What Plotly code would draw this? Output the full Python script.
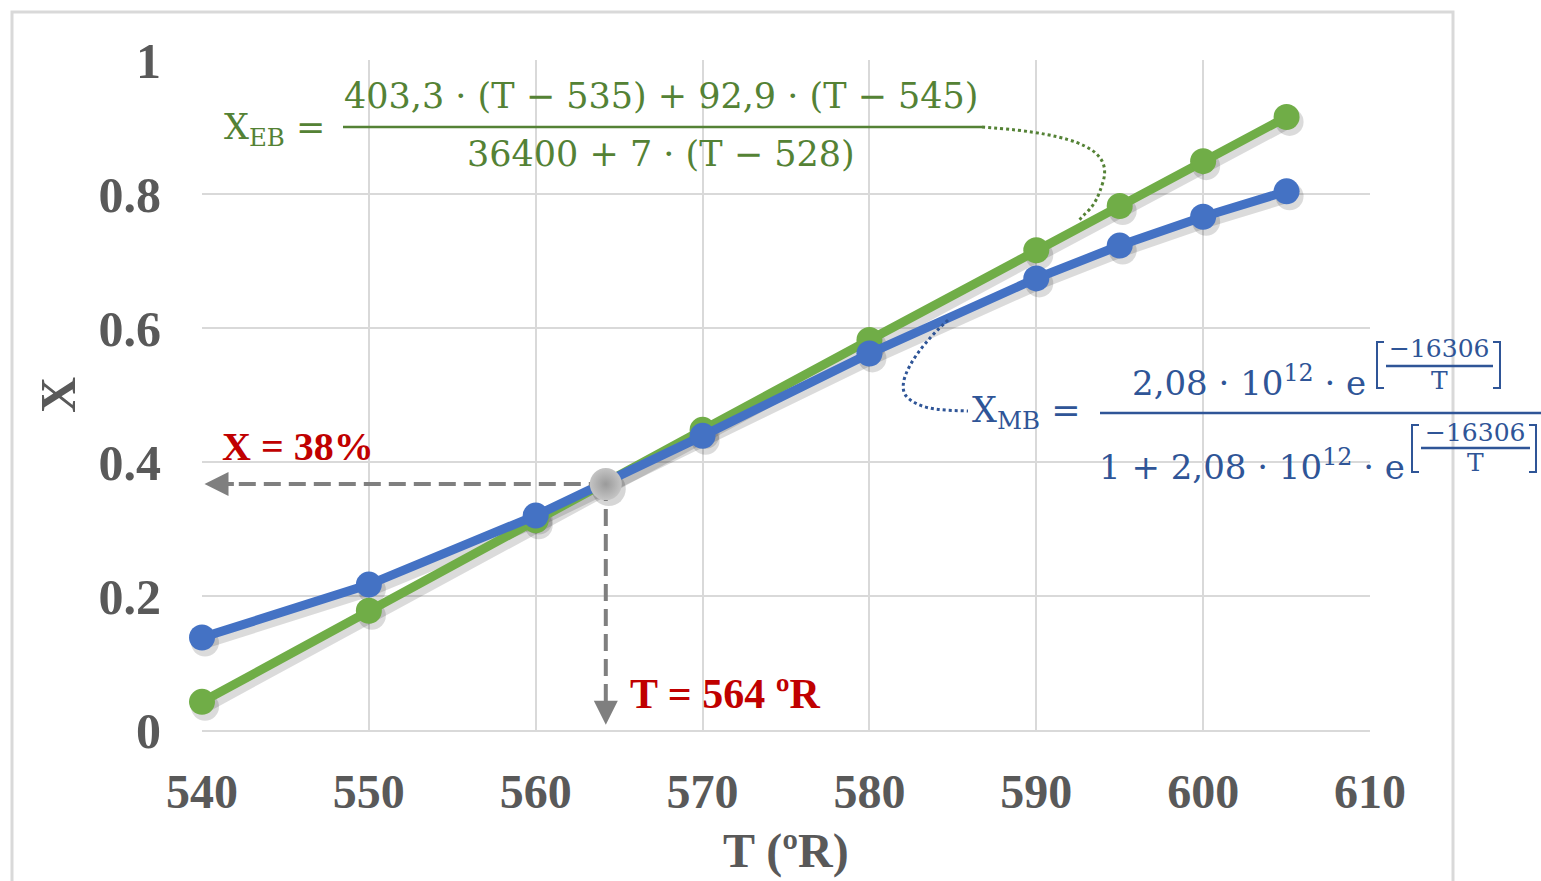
import plotly.graph_objects as go

# ---- data ----
T_vals = [540, 550, 560, 570, 580, 590, 595, 600, 605]
X_EB = [0.042, 0.178, 0.313, 0.448, 0.582, 0.716, 0.782, 0.849, 0.915]
X_MB = [0.138, 0.217, 0.320, 0.439, 0.562, 0.674, 0.723, 0.766, 0.804]
T_op = [564.2]
X_op = [0.367]
x_ticks = [540, 550, 560, 570, 580, 590, 600, 610]
y_ticks = [0, 0.2, 0.4, 0.6, 0.8, 1]
y_ticktext = ["0", "0.2", "0.4", "0.6", "0.8", "1"]

GREEN = "#70ad47"
BLUE = "#4472c4"
GTXT = "#548235"
BTXT = "#2f5597"
GRAY = "#595959"
RED = "#c00000"

W, H = 1541, 881
L, R, TOP, BOT = 202, 1370, 60, 730


def px(x):
    return (x - L) / (R - L)


def py(y):
    return (BOT - y) / (BOT - TOP)


fig = go.Figure()

# shadows (drawn on shifted axes)
sh_dx = 3 / ((R - L) / 70)
sh_dy = 5 / (BOT - TOP)
for ys in (X_EB, X_MB):
    fig.add_trace(go.Scatter(x=T_vals, y=ys, mode="lines+markers", xaxis="x2", yaxis="y2",
                             line=dict(color="rgba(0,0,0,0.14)", width=12),
                             marker=dict(size=28, color="rgba(0,0,0,0.14)"),
                             hoverinfo="skip", showlegend=False, cliponaxis=False))
fig.add_trace(go.Scatter(x=T_op, y=X_op, mode="markers", xaxis="x2", yaxis="y2",
                         marker=dict(size=34, color="rgba(0,0,0,0.16)"),
                         hoverinfo="skip", showlegend=False, cliponaxis=False))

fig.add_trace(go.Scatter(x=T_vals, y=X_EB, mode="lines+markers", name="X EB", xaxis="x3", yaxis="y3",
                         line=dict(color=GREEN, width=9), marker=dict(size=26, color=GREEN),
                         showlegend=False, cliponaxis=False))
fig.add_trace(go.Scatter(x=T_vals, y=X_MB, mode="lines+markers", name="X MB", xaxis="x3", yaxis="y3",
                         line=dict(color=BLUE, width=9), marker=dict(size=26, color=BLUE),
                         showlegend=False, cliponaxis=False))

# dashed guide lines
fig.add_trace(go.Scatter(x=[T_op[0], 541.4], y=[X_op[0], X_op[0]], mode="lines", xaxis="x3", yaxis="y3",
                         line=dict(color="#7f7f7f", width=4, dash="17px,8px"), showlegend=False,
                         hoverinfo="skip", cliponaxis=False))
fig.add_trace(go.Scatter(x=[T_op[0], T_op[0]], y=[X_op[0], 0.035], mode="lines", xaxis="x3", yaxis="y3",
                         line=dict(color="#7f7f7f", width=4, dash="17px,8px"), showlegend=False,
                         hoverinfo="skip", cliponaxis=False))
fig.add_trace(go.Scatter(x=T_op, y=X_op, mode="markers", xaxis="x3", yaxis="y3",
                         marker=dict(size=32, color="#c4c4c4",
                                     gradient=dict(type="radial", color="#9a9a9a")),
                         showlegend=False, cliponaxis=False))

axis_common = dict(showgrid=False, zeroline=False, showline=False, showticklabels=False)
fig.update_layout(
    width=W, height=H,
    margin=dict(l=L, r=W - R, t=TOP, b=H - BOT),
    paper_bgcolor="white", plot_bgcolor="white",
    xaxis=dict(range=[540, 610], tickvals=x_ticks, showgrid=True, gridcolor="#d9d9d9", gridwidth=2,
               zeroline=False, showline=True, linecolor="#d9d9d9", linewidth=2,
               ticks="", ticklabelstandoff=18,
               tickfont=dict(family="Liberation Serif", size=48, color=GRAY, weight="bold")),
    yaxis=dict(range=[0, 1], tickvals=y_ticks, ticktext=y_ticktext, showgrid=True, gridcolor="#d9d9d9",
               gridwidth=2, zeroline=False, showline=False, ticks="", ticklabelstandoff=40,
               tickfont=dict(family="Liberation Serif", size=50, color=GRAY, weight="bold")),
    xaxis2=dict(range=[540 - sh_dx, 610 - sh_dx], overlaying="x", **axis_common),
    yaxis2=dict(range=[0 + sh_dy, 1 + sh_dy], overlaying="y", **axis_common),
    xaxis3=dict(range=[540, 610], overlaying="x", **axis_common),
    yaxis3=dict(range=[0, 1], overlaying="y", **axis_common),
)

ann = []
shapes = []


def text(x, y, t, size, color, family="DejaVu Serif", xanchor="center", weight="normal", textangle=0):
    ann.append(dict(x=px(x), y=py(y), xref="paper", yref="paper", text=t, showarrow=False,
                    xanchor=xanchor, yanchor="middle", textangle=textangle,
                    font=dict(family=family, size=size, color=color, weight=weight)))


def line(x0, y0, x1, y1, color, width=2):
    shapes.append(dict(type="line", xref="paper", yref="paper", x0=px(x0), y0=py(y0), x1=px(x1), y1=py(y1),
                       line=dict(color=color, width=width)))


def path(points, color, width=3, dash="dot"):
    d = "M " + " ".join(
        (f"{c} " if isinstance(c, str) else f"{px(c[0]):.5f},{py(c[1]):.5f} ") for c in points)
    shapes.append(dict(type="path", xref="paper", yref="paper", path=d,
                       line=dict(color=color, width=width, dash=dash)))


def bracket(x, y0, y1, color, left=True):
    s = 7 if left else -7
    path([(x + s, y0), "L", (x, y0), "L", (x, y1), "L", (x + s, y1)], color, width=2, dash="solid")


# axis titles
text(58, 395, "X", 50, GRAY, family="Liberation Serif", textangle=-90, weight="bold")
text(786, 851, "T (ºR)", 48, GRAY, family="Liberation Serif", weight="bold")

# red labels
text(220, 446, "X = 38%", 40, RED, family="Liberation Serif", xanchor="left", weight="bold")
text(628, 694, "T = 564 ºR", 42, RED, family="Liberation Serif", xanchor="left", weight="bold")

# EB equation
text(222, 129, "X<sub>EB</sub> =", 35, GTXT, xanchor="left")
text(661, 96, "403,3 · (T − 535) + 92,9 · (T − 545)", 35, GTXT)
line(343, 127, 982, 127, GTXT, 2.5)
text(661, 154, "36400 + 7 · (T − 528)", 35, GTXT)
path([(982, 127), "C", (1085, 134), (1112, 152), (1103, 182), "S", (1086, 210), (1078, 222)], GTXT, 3)

# MB equation
text(970, 413, "X<sub>MB</sub> =", 35, BTXT, xanchor="left")
line(1100, 413, 1541, 413, BTXT, 2.5)
text(1130, 381, "2,08 · 10<sup>12</sup> · e", 34, BTXT, xanchor="left")
bracket(1377, 342, 388, BTXT, True)
text(1439, 348, "−16306", 25, BTXT)
line(1386, 366, 1493, 366, BTXT, 2.5)
text(1439, 380, "T", 25, BTXT)
bracket(1500, 342, 388, BTXT, False)

text(1097, 465, "1 + 2,08 · 10<sup>12</sup> · e", 34, BTXT, xanchor="left")
bracket(1412, 425, 472, BTXT, True)
text(1475, 432, "−16306", 25, BTXT)
line(1421, 448, 1530, 448, BTXT, 2.5)
text(1475, 463, "T", 25, BTXT)
bracket(1536, 425, 472, BTXT, False)

path([(948, 320), "C", (915, 350), (893, 385), (908, 398), "S", (945, 410), (968, 411)], BTXT, 3)

# arrowheads
ann.append(dict(x=540.15, y=X_op[0], ax=542.0, ay=X_op[0], xref="x", yref="y", axref="x", ayref="y",
                text="", showarrow=True, arrowhead=2, arrowsize=1.2, arrowwidth=4, arrowcolor="#7f7f7f"))
ann.append(dict(x=T_op[0], y=0.008, ax=T_op[0], ay=0.045, xref="x", yref="y", axref="x", ayref="y",
                text="", showarrow=True, arrowhead=2, arrowsize=1.2, arrowwidth=4, arrowcolor="#7f7f7f"))

# outer chart border
shapes.append(dict(type="rect", xref="paper", yref="paper", x0=px(12), x1=px(1453), y0=py(900), y1=py(12),
                   line=dict(color="#d9d9d9", width=3), layer="below"))

fig.update_layout(annotations=ann, shapes=shapes)
fig.write_html("out.html")
